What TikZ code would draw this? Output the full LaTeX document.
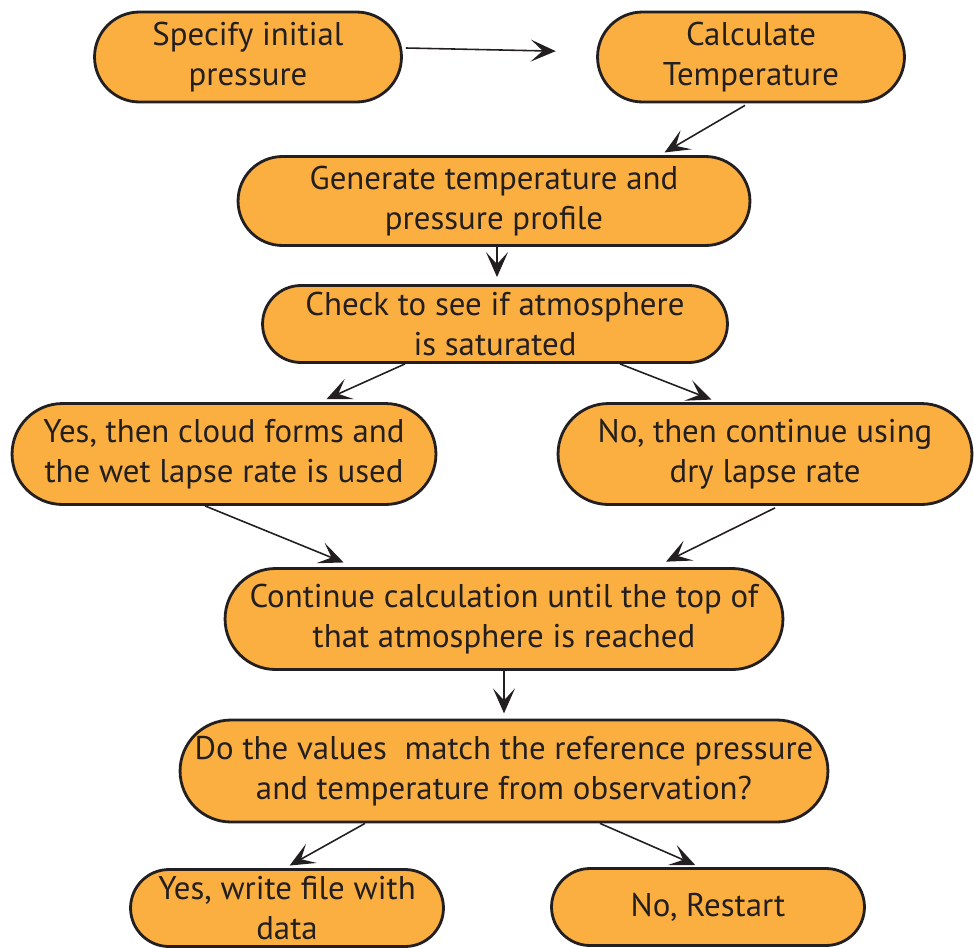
\documentclass[tikz,border=0pt]{standalone}
\usepackage{fontspec}
\setmainfont{PT Sans}
\usetikzlibrary{shapes.misc,arrows.meta,calc}

\definecolor{boxorange}{RGB}{250,175,64}
\definecolor{boxline}{RGB}{35,31,32}

\begin{document}
\begin{tikzpicture}[x=0.02cm, y=-0.02cm, font=\fontsize{18.7}{23}\selectfont, align=center]
    \tikzset{stadium/.style={rounded rectangle, draw=boxline, line width=1.6pt, fill=boxorange, inner sep=0pt, text=boxline}}
    \tikzset{flow/.style={-{Stealth[length=5mm, width=4.4mm, inset=2.4mm]}, draw=boxline, line width=0.9pt}}
    \useasboundingbox (0,0) rectangle (974,947);

    \node (init) at (248, 57) [stadium, minimum width=6.14cm, minimum height=1.8cm] {Specify initial \\ pressure};
    \node (temp) at (751, 57) [stadium, minimum width=6.14cm, minimum height=1.8cm] {Calculate \\ Temperature};

    \node (prof) at (494, 201) [stadium, minimum width=10.24cm, minimum height=1.78cm] {Generate temperature and \\ pressure profile};
    \node (check) at (495, 324) [stadium, minimum width=9.3cm, minimum height=1.54cm] {Check to see if atmosphere \\ is saturated};

    \node (wet) at (224, 454) [stadium, minimum width=8.48cm, minimum height=2.02cm] {Yes, then cloud forms and \\ the wet lapse rate is used};
    \node (dry) at (765, 454) [stadium, minimum width=8.28cm, minimum height=2.02cm] {No, then continue using \\ dry lapse rate};

    \node (cont) at (504, 619) [stadium, minimum width=11.16cm, minimum height=2.02cm] {Continue calculation until the top of \\ that atmosphere is reached};
    \node (match) at (504, 771) [stadium, minimum width=12.96cm, minimum height=2.04cm] {Do the values~ match the reference pressure \\ and temperature from observation?};

    \node (write) at (287, 908) [stadium, minimum width=6.26cm, minimum height=1.54cm] {Yes, write file with \\ data};
    \node (restart) at (708, 907) [stadium, minimum width=6.26cm, minimum height=1.54cm] {No, Restart};

    \draw [flow, shorten >=23] ($(init.east)+(3,-9)$) -- ($(temp.west)+(0,-5)$);
    \draw [flow, shorten >=3] ($(temp.south)+(-6,2)$) -- ($(prof.north)+(166,0)$);

    \draw [flow, shorten >=4] ($(prof.south)+(3,0)$) -- ($(check.north)+(2,0)$);

    \draw [flow, shorten >=4] ($(check.south)+(-90,0)$) -- ($(wet.north)+(96,0)$);
    \draw [flow, shorten >=4] ($(check.south)+(125,0)$) -- ($(dry.north)+(-47,0)$);

    \draw [flow, shorten >=7] ($(wet.south)+(-19,0)$) -- ($(cont.north)+(-149,0)$);
    \draw [flow, shorten >=7] ($(dry.south)+(10,2)$) -- ($(cont.north)+(151,0)$);

    \draw [flow, shorten >=3] (cont.south) -- (match.north);

    \draw [flow, shorten >=3] ($(match.south)+(-139,0)$) -- ($(write.north)+(-2,0)$);
    \draw [flow, shorten >=3] ($(match.south)+(96,0)$) -- ($(restart.north)+(-8,0)$);
\end{tikzpicture}
\end{document}
